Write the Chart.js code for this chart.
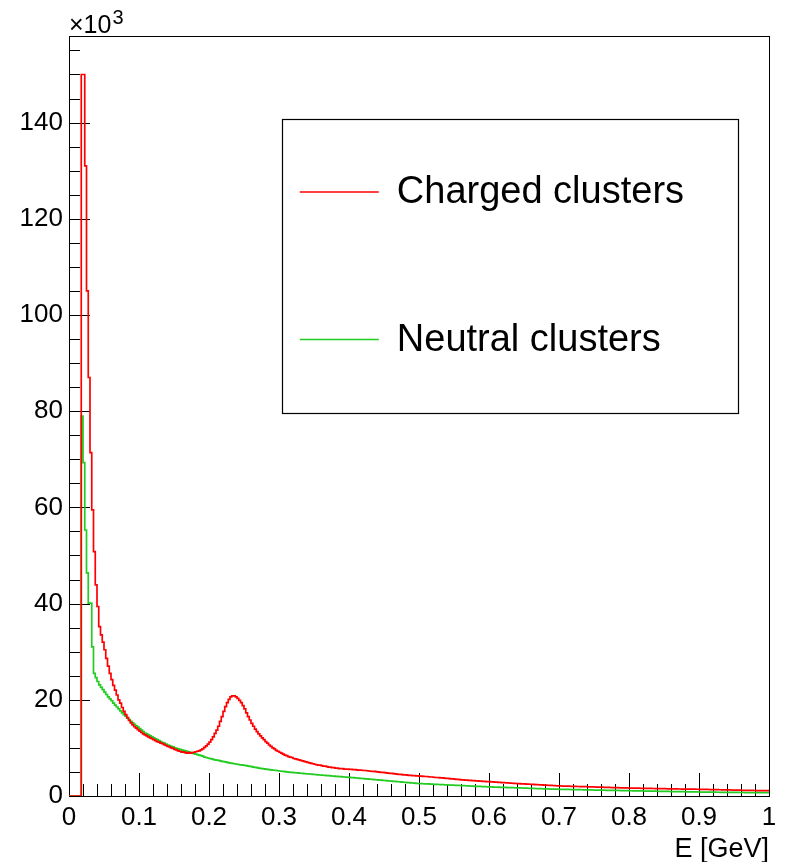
<!DOCTYPE html>
<html>
<head>
<meta charset="utf-8">
<script src="https://cdn.jsdelivr.net/npm/chart.js@4/dist/chart.umd.min.js"></script>
<style>
  html,body{margin:0;padding:0;background:#fff;}
  #wrap{width:787px;height:862px;}
</style>
</head>
<body>
<div id="wrap"><canvas id="c" width="787" height="862"></canvas></div>
<script>
// ---------------- DATA (counts in units of 10^3, bins of 0.0025 GeV from 0 to 1) ----------------
const E_MIN = 0, E_MAX = 1, N_BINS = 400;
const seriesLabels = ['Charged clusters', 'Neutral clusters'];

const chargedClusters = [
  0,0,0,0,0,0,0,0,
  150,150,131,105,87,71.4,59.5,50.8,43.9,39.4,35.2,
  33.5,32,30.4,28.6,27,25.5,24.2,23,22,21,
  20,19.3,18.4,17.6,16.9,16.3,15.7,15.2,14.8,14.4,
  14.1,13.8,13.5,13.2,12.9,12.7,12.5,12.3,12.1,11.9,
  11.7,11.5,11.3,11.2,11,10.9,10.7,10.5,10.3,10.2,
  10,9.9,9.7,9.6,9.4,9.3,9.1,9.2,9.0,8.9,
  9.0,8.9,9.0,9.1,9.2,9.3,9.4,9.6,9.8,10.1,
  10.4,10.8,11.2,11.7,12.3,13.0,13.7,14.5,15.5,16.5,
  17.6,18.6,19.4,20.1,20.6,20.8,20.8,20.6,20.3,19.9,
  19.4,18.8,18.1,17.3,16.5,15.8,15.1,14.5,13.9,13.4,
  12.9,12.5,12.1,11.7,11.3,11,10.6,10.3,10.0,9.8,
  9.5,9.3,9.1,8.9,8.7,8.5,8.4,8.2,8.1,8.0,
  7.8,7.7,7.6,7.5,7.4,7.3,7.2,7.1,7.0,6.9,
  6.8,6.7,6.6,6.5,6.4,6.4,6.3,6.2,6.2,6.1,
  6.0,6.0,5.9,5.9,5.8,5.8,5.7,5.7,5.7,5.6,5.6,5.6,
  5.55,5.55,5.5,5.5,5.45,5.4,5.4,5.35,5.3,5.3,
  5.25,5.2,5.15,5.1,5.1,5.05,5.0,4.95,4.9,4.9,
  4.85,4.8,4.75,4.7,4.7,4.65,4.6,4.55,4.5,4.5,
  4.45,4.4,4.4,4.35,4.3,4.3,4.25,4.25,4.2,4.2,
  4.15,4.15,4.1,4.05,4.05,4.0,3.95,3.95,3.9,3.85,
  3.85,3.8,3.75,3.75,3.7,3.65,3.65,3.6,3.55,3.55,
  3.5,3.45,3.45,3.4,3.35,3.35,3.3,3.3,3.25,3.25,
  3.2,3.2,3.15,3.15,3.1,3.1,3.05,3.05,3.0,3.0,
  2.98,2.95,2.93,2.9,2.88,2.85,2.83,2.8,2.78,2.75,
  2.73,2.7,2.68,2.65,2.63,2.6,2.58,2.56,2.54,2.52,
  2.5,2.48,2.46,2.44,2.42,2.4,2.38,2.36,2.34,2.32,
  2.3,2.28,2.26,2.24,2.22,2.2,2.18,2.16,2.13,2.1,
  2.09,2.08,2.07,2.06,2.05,2.04,2.03,2.02,2.0,1.99,
  1.98,1.97,1.96,1.95,1.94,1.93,1.92,1.9,1.89,1.88,
  1.87,1.86,1.85,1.84,1.83,1.82,1.8,1.79,1.78,1.77,
  1.76,1.75,1.74,1.73,1.72,1.7,1.69,1.68,1.67,1.66,
  1.65,1.64,1.64,1.63,1.62,1.62,1.61,1.6,1.6,1.59,
  1.58,1.58,1.57,1.56,1.56,1.55,1.54,1.54,1.53,1.52,
  1.52,1.51,1.5,1.5,1.49,1.48,1.48,1.47,1.46,1.46,
  1.45,1.44,1.44,1.43,1.42,1.42,1.41,1.41,1.4,1.4,
  1.39,1.38,1.38,1.37,1.36,1.35,1.34,1.34,1.33,1.32,
  1.31,1.3,1.3,1.29,1.28,1.27,1.26,1.26,1.25,1.24,
  1.23,1.22,1.22,1.21,1.2,1.19,1.18,1.18,1.17,1.16,
  1.15,1.14,1.14,1.13,1.12,1.12,1.11,1.1,1.1
];

const neutralClusters = [
  0,0,0,0,0,0,0,0,
  79,69.3,55.3,46.4,40.1,40.1,31,25.5,24.6,23.8,23.1,
  22.6,22.1,21.6,21.1,20.6,20.2,19.8,19.3,18.9,18.5,
  18.1,17.7,17.3,16.9,16.6,16.2,15.9,15.5,15.2,14.9,
  14.6,14.3,14.0,13.7,13.4,13.1,12.9,12.7,12.5,12.3,
  12.1,11.9,11.7,11.5,11.3,11.1,11.0,10.8,10.6,10.5,
  10.3,10.2,10.0,9.9,9.8,9.7,9.6,9.5,9.4,9.3,
  9.2,9.0,8.9,8.8,8.7,8.6,8.5,8.4,8.3,8.1,
  8.0,7.9,7.8,7.7,7.6,7.5,7.45,7.4,7.3,7.2,
  7.15,7.1,7.0,6.9,6.85,6.8,6.7,6.65,6.6,6.5,
  6.45,6.4,6.35,6.3,6.2,6.15,6.1,6.0,5.95,5.9,
  5.8,5.75,5.7,5.65,5.6,5.55,5.5,5.45,5.4,5.35,
  5.3,5.25,5.2,5.15,5.1,5.05,5.0,4.97,4.93,4.9,
  4.87,4.83,4.8,4.77,4.73,4.7,4.67,4.63,4.6,4.57,
  4.53,4.5,4.47,4.43,4.4,4.37,4.34,4.31,4.28,4.25,
  4.22,4.19,4.16,4.13,4.1,4.07,4.04,4.01,3.98,3.95,3.92,3.9,
  3.87,3.84,3.8,3.77,3.74,3.71,3.67,3.64,3.61,3.58,
  3.54,3.51,3.48,3.45,3.41,3.38,3.35,3.32,3.28,3.25,
  3.22,3.19,3.15,3.12,3.09,3.06,3.02,2.99,2.96,2.93,
  2.89,2.86,2.83,2.8,2.76,2.73,2.7,2.67,2.63,2.6,
  2.58,2.57,2.55,2.53,2.51,2.5,2.48,2.46,2.44,2.43,
  2.41,2.39,2.37,2.36,2.34,2.32,2.3,2.29,2.27,2.25,
  2.23,2.22,2.2,2.18,2.16,2.15,2.13,2.11,2.09,2.08,
  2.06,2.04,2.02,2.01,1.99,1.97,1.95,1.94,1.92,1.9,
  1.89,1.88,1.86,1.85,1.84,1.83,1.81,1.8,1.79,1.78,
  1.76,1.75,1.74,1.73,1.71,1.7,1.69,1.68,1.66,1.65,
  1.64,1.63,1.61,1.6,1.59,1.58,1.56,1.55,1.54,1.53,
  1.51,1.5,1.49,1.48,1.46,1.45,1.44,1.43,1.41,1.4,
  1.39,1.39,1.38,1.37,1.36,1.36,1.35,1.34,1.33,1.33,
  1.32,1.31,1.3,1.3,1.29,1.28,1.27,1.27,1.26,1.25,
  1.24,1.24,1.23,1.22,1.21,1.21,1.2,1.19,1.18,1.18,
  1.17,1.16,1.15,1.15,1.14,1.13,1.12,1.12,1.11,1.1,
  1.09,1.09,1.08,1.07,1.07,1.06,1.05,1.05,1.04,1.03,
  1.03,1.02,1.01,1.01,1.0,0.99,0.99,0.98,0.97,0.97,
  0.96,0.95,0.95,0.94,0.93,0.93,0.92,0.91,0.91,0.9,
  0.89,0.89,0.88,0.87,0.87,0.86,0.85,0.85,0.84,0.83,
  0.83,0.82,0.82,0.81,0.81,0.8,0.8,0.79,0.79,0.79,
  0.78,0.78,0.77,0.77,0.77,0.76,0.76,0.75,0.75,0.75,
  0.74,0.74,0.74,0.73,0.73,0.73,0.72,0.72,0.72,0.71,
  0.71,0.71,0.71,0.7,0.7,0.7,0.7,0.7,0.7
];

const xTickValues = [0,0.1,0.2,0.3,0.4,0.5,0.6,0.7,0.8,0.9,1];
const xTickLabels = ['0','0.1','0.2','0.3','0.4','0.5','0.6','0.7','0.8','0.9','1'];
const yTickValues = [0,20,40,60,80,100,120,140];
const yTickLabels = ['0','20','40','60','80','100','120','140'];
const Y_MAX = 158;
const xTitle = 'E [GeV]';
const yExponent = '3';

// ---------------- build histogram steps ----------------
const BIN_W = (E_MAX - E_MIN) / N_BINS;
function histSteps(vals){
  const pts = vals.map((v,i)=>({x:E_MIN + i*BIN_W, y:v}));
  pts.push({x:E_MIN + vals.length*BIN_W, y:vals[vals.length-1]});
  return pts;
}

const FONT = '"Liberation Sans", Arial, Helvetica, sans-serif';

const rootStyle = {
  id:'rootStyle',
  beforeDatasetsDraw(chart){
    const {ctx, chartArea:a, scales:{x,y}} = chart;
    ctx.save();
    ctx.strokeStyle = '#000';
    ctx.lineWidth = 1;
    ctx.strokeRect(a.left+0.5, a.top+0.5, a.right-a.left, a.bottom-a.top);
    ctx.beginPath();
    for(let v=0; v<=Y_MAX; v+=5){
      const py = Math.round(y.getPixelForValue(v))+0.5;
      const major = (v % 20 === 0);
      ctx.moveTo(a.left, py);
      ctx.lineTo(a.left + (major?21:11), py);
    }
    for(let k=0; k<=50; k++){
      const v = k*0.02;
      const px = Math.round(x.getPixelForValue(v))+0.5;
      const major = (k % 5 === 0);
      ctx.moveTo(px, a.bottom);
      ctx.lineTo(px, a.bottom - (major?23:12));
    }
    ctx.stroke();
    ctx.restore();
  },
  afterDatasetsDraw(chart){
    const {ctx, chartArea:a} = chart;
    ctx.save();
    ctx.fillStyle = '#000';
    ctx.textBaseline = 'alphabetic';
    ctx.textAlign = 'left';
    ctx.font = '25px ' + FONT;
    ctx.fillText('\u00d710', a.left, a.top - 3);
    const w = ctx.measureText('\u00d710').width;
    ctx.font = '20px ' + FONT;
    ctx.fillText(yExponent, a.left + w + 1, a.top - 12);

    ctx.font = '27px ' + FONT;
    ctx.textAlign = 'right';
    ctx.fillText(xTitle, a.right, 857);

    const W = a.right - a.left, H = a.bottom - a.top;
    const lx1 = a.left + 0.304*W, lx2 = a.left + 0.956*W;
    const ly1 = a.top + 0.109*H, ly2 = a.top + 0.496*H;
    ctx.fillStyle = '#fff';
    ctx.fillRect(lx1, ly1, lx2-lx1, ly2-ly1);
    ctx.strokeStyle = '#000';
    ctx.lineWidth = 1.2;
    ctx.strokeRect(Math.round(lx1)+0.5, Math.round(ly1)+0.5, Math.round(lx2-lx1), Math.round(ly2-ly1));
    const rows = [192, 339.5];
    chart.data.datasets.forEach((ds, i)=>{
      const ry = rows[i];
      ctx.strokeStyle = ds.borderColor;
      ctx.lineWidth = 1.3;
      ctx.beginPath();
      ctx.moveTo(lx1 + 18, ry);
      ctx.lineTo(lx1 + 97, ry);
      ctx.stroke();
      ctx.fillStyle = '#000';
      ctx.textAlign = 'left';
      ctx.textBaseline = 'alphabetic';
      ctx.font = '38px ' + FONT;
      ctx.fillText(ds.label, lx1 + 115, ry + 11);
    });
    ctx.restore();
  }
};

new Chart(document.getElementById('c'), {
  type:'line',
  data:{
    datasets:[
      {label:seriesLabels[0], data:histSteps(chargedClusters), borderColor:'#ff0000', borderWidth:1.7,
       stepped:'after', pointRadius:0, fill:false, tension:0},
      {label:seriesLabels[1], data:histSteps(neutralClusters), borderColor:'#22cc22', borderWidth:1.7,
       stepped:'after', pointRadius:0, fill:false, tension:0}
    ]
  },
  options:{
    responsive:false,
    animation:false,
    devicePixelRatio:1,
    events:[],
    layout:{padding:{left:0, top:36, right:18, bottom:0}},
    plugins:{legend:{display:false}, tooltip:{enabled:false}, title:{display:false}},
    scales:{
      x:{
        type:'linear', min:E_MIN, max:E_MAX,
        grid:{display:false, drawTicks:false},
        border:{display:false},
        afterFit(s){ s.height = 66; },
        afterBuildTicks(s){ s.ticks = xTickValues.map(v=>({value:v})); },
        ticks:{
          autoSkip:false, maxRotation:0, padding:6, color:'#000',
          font:{family:FONT, size:26},
          callback:(v,i)=>xTickLabels[i]
        }
      },
      y:{
        type:'linear', min:0, max:Y_MAX,
        grid:{display:false, drawTicks:false},
        border:{display:false},
        afterFit(s){ s.width = 69; },
        afterBuildTicks(s){ s.ticks = yTickValues.map(v=>({value:v})); },
        ticks:{
          autoSkip:false, padding:6, color:'#000',
          font:{family:FONT, size:26},
          callback:(v,i)=>yTickLabels[i]
        }
      }
    }
  },
  plugins:[rootStyle]
});
</script>
</body>
</html>
